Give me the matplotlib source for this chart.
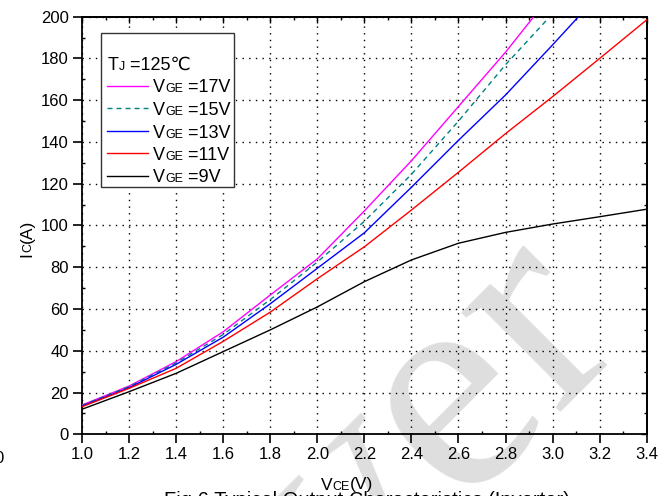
import math
import matplotlib
matplotlib.use("Agg")
import matplotlib.pyplot as plt
from matplotlib.transforms import IdentityTransform
from matplotlib.ticker import MultipleLocator, FormatStrFormatter
from matplotlib.patches import Rectangle
from matplotlib.lines import Line2D

W, H, DPI = 670, 496, 100
FONT = ["Liberation Sans", "DejaVu Sans"]

# Output characteristics at Tj = 125 C: collector current vs. collector-emitter voltage
vge_labels = ["17V", "15V", "13V", "11V", "9V"]

vce_17 = [1.0, 1.2, 1.4, 1.6, 1.8, 2.0, 2.2, 2.4, 2.6, 2.8, 2.92]
ic_17 = [14, 23.1, 34.8, 49.1, 66.7, 84, 107, 131, 157, 183, 200]

vce_15 = [1.0, 1.2, 1.4, 1.6, 1.8, 2.0, 2.2, 2.4, 2.6, 2.8, 2.98]
ic_15 = [13.8, 22.8, 34.2, 47.8, 64.5, 82.5, 102, 124.5, 150, 177, 199]

vce_13 = [1.0, 1.2, 1.4, 1.6, 1.8, 2.0, 2.2, 2.4, 2.6, 2.8, 3.0, 3.11]
ic_13 = [13.5, 22.3, 33.5, 46.5, 62.5, 79.5, 96.5, 118.3, 140.8, 162.5, 186.5, 200]

vce_11 = [1.0, 1.2, 1.4, 1.6, 1.8, 2.0, 2.2, 2.4, 2.6, 2.8, 3.0, 3.2, 3.4]
ic_11 = [13.2, 22, 31.6, 44.5, 58.5, 74.5, 89.8, 107.4, 125.5, 144, 161.7, 180, 198.5]

vce_9 = [1.0, 1.2, 1.4, 1.6, 1.8, 2.0, 2.2, 2.4, 2.6, 2.8, 3.0, 3.2, 3.4]
ic_9 = [12, 20.4, 29.2, 39.6, 50, 61, 73.1, 83.5, 91.5, 96.7, 100.7, 104.2, 107.8]

xticks = [1.0, 1.2, 1.4, 1.6, 1.8, 2.0, 2.2, 2.4, 2.6, 2.8, 3.0, 3.2, 3.4]
yticks = [0, 20, 40, 60, 80, 100, 120, 140, 160, 180, 200]

series = [
    (vce_17, ic_17, "#ff00ff", "-"),
    (vce_15, ic_15, "#008080", (0, (3.6, 2.9))),
    (vce_13, ic_13, "#0000ff", "-"),
    (vce_11, ic_11, "#ff0000", "-"),
    (vce_9, ic_9, "#000000", "-"),
]

fig = plt.figure(figsize=(W / DPI, H / DPI), dpi=DPI)
x0, x1, y0, y1 = 82, 646.7, 16.7, 434.3
ax = fig.add_axes([x0 / W, 1 - y1 / H, (x1 - x0) / W, (y1 - y0) / H])
ax.set_facecolor("none")

# light grey watermark lettering behind the plot
fig.text(353, H - 620, "ver", transform=IdentityTransform(), fontsize=220,
         family=["Liberation Serif", "DejaVu Serif"], color="#dedede",
         ha="left", va="baseline", rotation=45, rotation_mode="anchor", zorder=-5)

for xs, ys, c, ls in series:
    ax.plot(xs, ys, color=c, linestyle=ls, linewidth=1.0, zorder=3)

ax.set_xlim(1.0, 3.4)
ax.set_ylim(0, 200)
ax.set_xticks(xticks)
ax.set_yticks(yticks)
ax.xaxis.set_major_formatter(FormatStrFormatter("%.1f"))
ax.xaxis.set_minor_locator(MultipleLocator(0.1))
ax.yaxis.set_minor_locator(MultipleLocator(10))
ax.grid(True, which="major", color="black", linestyle=(0, (1.0, 3.8)), linewidth=1.0)

for sp in ax.spines.values():
    sp.set_linewidth(1.3)
ax.tick_params(which="major", direction="out", length=6.5, width=1.2,
               labelsize=12, pad=3)
ax.tick_params(which="minor", direction="in", length=2.2, width=1.0)
for lab in ax.get_xticklabels() + ax.get_yticklabels():
    lab.set_family(FONT)

# inward ticks on the top and right frame
top = ax.secondary_xaxis("top")
top.set_xticks(xticks)
top.xaxis.set_minor_locator(MultipleLocator(0.1))
top.tick_params(which="major", direction="in", length=4, width=1.0, labeltop=False)
top.tick_params(which="minor", direction="in", length=2.2, width=1.0)
right = ax.secondary_yaxis("right")
right.set_yticks(yticks)
right.yaxis.set_minor_locator(MultipleLocator(10))
right.tick_params(which="major", direction="in", length=4, width=1.0, labelright=False)
right.tick_params(which="minor", direction="in", length=2.2, width=1.0)
for sec in (top, right):
    for sp in sec.spines.values():
        sp.set_linewidth(1.3)

fig.canvas.draw()
renderer = fig.canvas.get_renderer()


def rich(x, y, parts, rotation=0, color="black", zorder=6):
    """Place text pieces of different sizes along one baseline (pixel coords, y from top)."""
    ang = math.radians(rotation)
    cx, cy = x, H - y
    for s, size in parts:
        t = fig.text(cx, cy, s, transform=IdentityTransform(), fontsize=size,
                     family=FONT, color=color, ha="left", va="baseline",
                     rotation=rotation, rotation_mode="anchor", zorder=zorder)
        bb = t.get_window_extent(renderer)
        w = bb.width if rotation == 0 else bb.height
        cx += w * math.cos(ang)
        cy += w * math.sin(ang)


BIG, SMALL = 13, 9

# legend frame
fig.add_artist(Rectangle((101, H - 186.5), 133, 153.5, transform=IdentityTransform(),
                         facecolor="white", edgecolor="#333333", linewidth=1.0, zorder=4))
rich(108, 70, [("T", BIG), ("J", SMALL), (" =125\u2103", BIG)])
row_y = [85.7, 108.2, 130.7, 153.3, 175.5]
for (xs, ys, c, ls), lab, ry in zip(series, vge_labels, row_y):
    fig.add_artist(Line2D([107, 148], [H - ry, H - ry], transform=IdentityTransform(),
                          color=c, linestyle=ls, linewidth=1.0, zorder=5))
    rich(153, ry + 6.8, [("V", BIG), ("GE", SMALL), (" =" + lab, BIG)])

# axis titles
rich(321, 489.5, [("V", 12.5), ("CE", 9), ("(V)", 12.5)])
rich(31.5, 257, [("I", 12.5), ("C", 9), ("(A)", 12.5)], rotation=90)

# figure caption (runs off the lower edge)
fig.text(367, H - 506, "Fig.6 Typical Output Characteristics (Inverter)",
         transform=IdentityTransform(), fontsize=14.5, family=FONT,
         ha="center", va="baseline")
# neighbouring tick label at the far left edge
fig.text(4, H - 463, "0", transform=IdentityTransform(), fontsize=12, family=FONT,
         ha="right", va="baseline")

fig.savefig("out.png", dpi=DPI)
